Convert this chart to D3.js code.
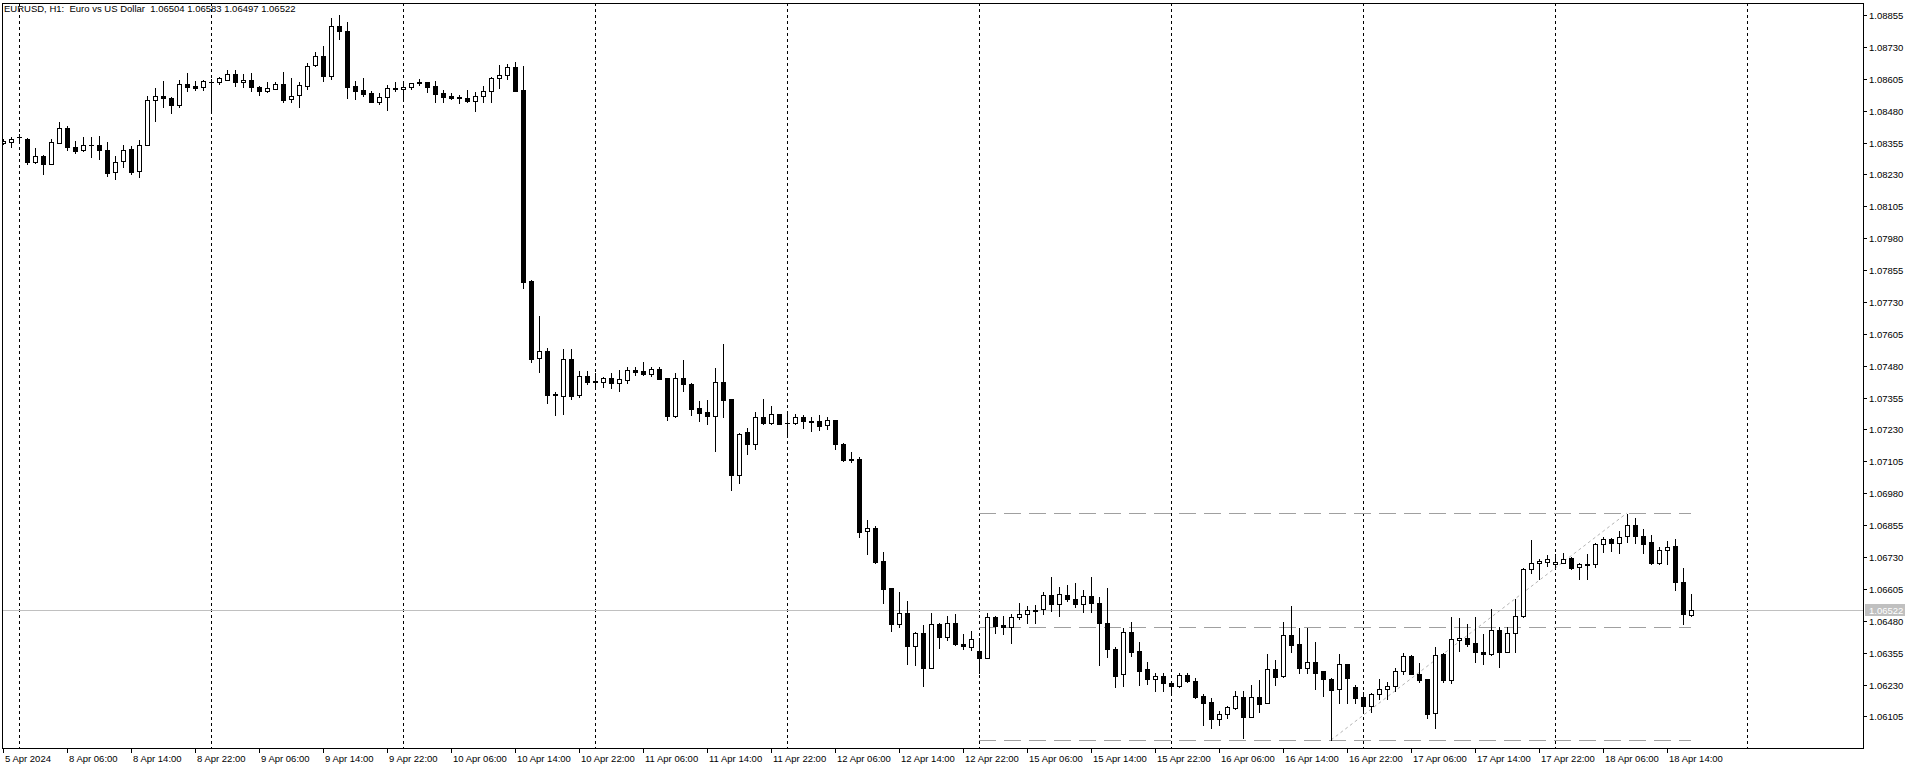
<!doctype html>
<html lang="en">
<head>
<meta charset="UTF-8">
<script src="https://cdn.jsdelivr.net/npm/d3@7/dist/d3.min.js"></script>
<style>
  body { margin: 0; background: #fff; }
  svg { display: block; }
  .axis text { font: 9.5px "Liberation Sans", Arial, sans-serif; fill: #000; }
  .title { font: 9.5px "Liberation Sans", Arial, sans-serif; fill: #000; white-space: pre; }
  .frame { fill: none; stroke: #000; shape-rendering: crispEdges; }
  .grid line { stroke: #000; stroke-dasharray: 3,3; shape-rendering: crispEdges; }
  .wick { stroke: #000; shape-rendering: crispEdges; }
  .bear { fill: #000; shape-rendering: crispEdges; }
  .bull { fill: #fff; stroke: #000; shape-rendering: crispEdges; }
  .fibo { stroke: #a0a0a0; stroke-dasharray: 17,8; shape-rendering: crispEdges; }
  .fiboTrend { stroke: #b4b4b4; stroke-dasharray: 3,3; }
  .priceLine { stroke: #c0c0c0; shape-rendering: crispEdges; }
</style>
</head>
<body>
<svg id="chart"></svg>
<script>
// ---- data (EURUSD H1) ----
const title = "EURUSD, H1:  Euro vs US Dollar  1.06504 1.06583 1.06497 1.06522";

const opens = [1.08355,1.08356,1.08377,1.08369,1.08277,1.08302,1.08272,1.08354,1.08411,1.08337,
 1.08326,1.08347,1.08345,1.08326,1.08238,1.08281,1.08330,1.08242,1.08346,1.08521,
 1.08536,1.08530,1.08501,1.08584,1.08575,1.08572,1.08594,1.08591,1.08601,1.08622,
 1.08591,1.08599,1.08573,1.08557,1.08566,1.08584,1.08527,1.08540,1.08578,1.08658,
 1.08694,1.08617,1.08812,1.08792,1.08577,1.08561,1.08548,1.08515,1.08532,1.08568,
 1.08564,1.08572,1.08592,1.08591,1.08577,1.08549,1.08537,1.08534,1.08530,1.08519,
 1.08536,1.08557,1.08607,1.08619,1.08650,1.08561,1.07812,1.07511,1.07538,1.07370,
 1.07362,1.07506,1.07366,1.07440,1.07419,1.07417,1.07431,1.07413,1.07425,1.07463,
 1.07458,1.07449,1.07466,1.07431,1.07284,1.07431,1.07407,1.07313,1.07298,1.07284,
 1.07415,1.07349,1.07053,1.07220,1.07174,1.07279,1.07256,1.07289,1.07255,1.07256,
 1.07278,1.07262,1.07262,1.07246,1.07266,1.07173,1.07112,1.07114,1.06833,1.06843,
 1.06713,1.06607,1.06468,1.06509,1.06382,1.06431,1.06293,1.06466,1.06417,1.06470,
 1.06388,1.06378,1.06361,1.06335,1.06493,1.06462,1.06454,1.06496,1.06505,1.06522,
 1.06525,1.06580,1.06544,1.06581,1.06564,1.06547,1.06576,1.06549,1.06470,1.06370,
 1.06270,1.06436,1.06361,1.06291,1.06250,1.06264,1.06236,1.06225,1.06266,1.06242,
 1.06185,1.06160,1.06096,1.06113,1.06139,1.06181,1.06101,1.06181,1.06159,1.06291,
 1.06263,1.06423,1.06389,1.06296,1.06317,1.06282,1.06253,1.06211,1.06309,1.06219,
 1.06180,1.06144,1.06191,1.06211,1.06223,1.06282,1.06342,1.06271,1.06250,1.06117,
 1.06348,1.06248,1.06403,1.06413,1.06391,1.06357,1.06348,1.06442,1.06356,1.06431,
 1.06497,1.06682,1.06705,1.06711,1.06701,1.06708,1.06725,1.06689,1.06700,1.06701,
 1.06780,1.06799,1.06783,1.06812,1.06854,1.06812,1.06787,1.06705,1.06758,1.06772,
 1.06631,1.06504];

const highs = [1.08367,1.08378,1.08388,1.08372,1.08335,1.08305,1.08368,1.08434,1.08419,1.08360,
 1.08375,1.08378,1.08381,1.08357,1.08302,1.08345,1.08341,1.08365,1.08536,1.08569,
 1.08597,1.08532,1.08600,1.08629,1.08595,1.08600,1.08603,1.08613,1.08639,1.08639,
 1.08622,1.08629,1.08577,1.08592,1.08593,1.08633,1.08607,1.08593,1.08666,1.08710,
 1.08733,1.08843,1.08855,1.08826,1.08596,1.08607,1.08557,1.08548,1.08582,1.08592,
 1.08595,1.08588,1.08603,1.08593,1.08596,1.08561,1.08548,1.08541,1.08561,1.08553,
 1.08575,1.08613,1.08659,1.08663,1.08670,1.08655,1.07816,1.07675,1.07548,1.07378,
 1.07545,1.07545,1.07459,1.07459,1.07450,1.07437,1.07451,1.07462,1.07474,1.07474,
 1.07494,1.07474,1.07475,1.07431,1.07452,1.07502,1.07413,1.07342,1.07345,1.07472,
 1.07565,1.07349,1.07217,1.07236,1.07298,1.07349,1.07321,1.07289,1.07291,1.07291,
 1.07287,1.07280,1.07287,1.07278,1.07267,1.07175,1.07142,1.07121,1.06875,1.06850,
 1.06749,1.06609,1.06593,1.06557,1.06436,1.06462,1.06509,1.06472,1.06498,1.06506,
 1.06428,1.06440,1.06411,1.06509,1.06498,1.06498,1.06506,1.06548,1.06538,1.06542,
 1.06591,1.06651,1.06613,1.06620,1.06627,1.06600,1.06653,1.06574,1.06607,1.06378,
 1.06453,1.06475,1.06397,1.06319,1.06274,1.06274,1.06241,1.06274,1.06274,1.06257,
 1.06191,1.06177,1.06126,1.06147,1.06204,1.06204,1.06228,1.06248,1.06350,1.06326,
 1.06476,1.06539,1.06451,1.06451,1.06398,1.06282,1.06257,1.06350,1.06309,1.06228,
 1.06202,1.06198,1.06251,1.06241,1.06293,1.06355,1.06346,1.06313,1.06250,1.06378,
 1.06352,1.06493,1.06490,1.06467,1.06495,1.06428,1.06526,1.06457,1.06457,1.06564,
 1.06688,1.06797,1.06722,1.06738,1.06742,1.06744,1.06729,1.06705,1.06742,1.06786,
 1.06809,1.06803,1.06832,1.06900,1.06882,1.06838,1.06816,1.06770,1.06791,1.06799,
 1.06685,1.06583];

const lows = [1.08351,1.08336,1.08365,1.08272,1.08276,1.08233,1.08271,1.08352,1.08326,1.08315,
 1.08323,1.08299,1.08289,1.08225,1.08211,1.08260,1.08233,1.08221,1.08345,1.08438,
 1.08495,1.08470,1.08495,1.08558,1.08561,1.08561,1.08476,1.08586,1.08600,1.08577,
 1.08572,1.08557,1.08543,1.08553,1.08564,1.08515,1.08515,1.08495,1.08566,1.08656,
 1.08597,1.08605,1.08762,1.08531,1.08524,1.08539,1.08515,1.08505,1.08481,1.08556,
 1.08519,1.08564,1.08581,1.08554,1.08515,1.08513,1.08524,1.08509,1.08515,1.08480,
 1.08514,1.08515,1.08570,1.08605,1.08556,1.07786,1.07496,1.07456,1.07335,1.07287,
 1.07291,1.07349,1.07358,1.07408,1.07391,1.07396,1.07392,1.07381,1.07413,1.07445,
 1.07443,1.07441,1.07427,1.07267,1.07280,1.07381,1.07287,1.07264,1.07251,1.07147,
 1.07279,1.06993,1.07021,1.07134,1.07152,1.07250,1.07253,1.07250,1.07204,1.07251,
 1.07237,1.07225,1.07228,1.07232,1.07153,1.07106,1.07104,1.06809,1.06742,1.06706,
 1.06551,1.06441,1.06457,1.06310,1.06306,1.06225,1.06293,1.06374,1.06404,1.06385,
 1.06371,1.06365,1.06274,1.06333,1.06433,1.06428,1.06391,1.06486,1.06470,1.06470,
 1.06505,1.06518,1.06500,1.06559,1.06533,1.06515,1.06515,1.06306,1.06339,1.06219,
 1.06224,1.06342,1.06229,1.06232,1.06203,1.06203,1.06189,1.06221,1.06241,1.06178,
 1.06072,1.06061,1.06071,1.06100,1.06135,1.06020,1.06101,1.06123,1.06159,1.06228,
 1.06258,1.06359,1.06276,1.06276,1.06213,1.06185,1.06012,1.06159,1.06159,1.06159,
 1.06117,1.06121,1.06172,1.06172,1.06206,1.06271,1.06270,1.06241,1.06097,1.06061,
 1.06241,1.06237,1.06361,1.06381,1.06319,1.06310,1.06344,1.06298,1.06356,1.06359,
 1.06493,1.06668,1.06644,1.06695,1.06692,1.06705,1.06682,1.06642,1.06644,1.06689,
 1.06751,1.06753,1.06747,1.06790,1.06783,1.06747,1.06701,1.06701,1.06701,1.06600,
 1.06466,1.06497];

const closes = [1.08361,1.08370,1.08375,1.08280,1.08302,1.08272,1.08356,1.08411,1.08336,1.08321,
 1.08347,1.08345,1.08325,1.08237,1.08280,1.08325,1.08239,1.08344,1.08521,1.08536,
 1.08531,1.08503,1.08583,1.08574,1.08570,1.08595,1.08591,1.08608,1.08622,1.08591,
 1.08599,1.08572,1.08557,1.08569,1.08584,1.08522,1.08536,1.08579,1.08654,1.08694,
 1.08617,1.08812,1.08791,1.08574,1.08558,1.08545,1.08515,1.08532,1.08568,1.08566,
 1.08572,1.08587,1.08587,1.08574,1.08546,1.08535,1.08530,1.08528,1.08519,1.08536,
 1.08557,1.08607,1.08619,1.08650,1.08558,1.07809,1.07506,1.07538,1.07366,1.07364,
 1.07506,1.07362,1.07438,1.07417,1.07418,1.07431,1.07413,1.07427,1.07462,1.07456,
 1.07449,1.07466,1.07429,1.07284,1.07431,1.07407,1.07310,1.07296,1.07284,1.07415,
 1.07347,1.07051,1.07212,1.07174,1.07279,1.07256,1.07289,1.07253,1.07254,1.07278,
 1.07262,1.07260,1.07245,1.07266,1.07172,1.07110,1.07113,1.06829,1.06842,1.06710,
 1.06606,1.06468,1.06509,1.06382,1.06431,1.06296,1.06466,1.06417,1.06470,1.06389,
 1.06381,1.06407,1.06335,1.06493,1.06460,1.06454,1.06496,1.06505,1.06521,1.06518,
 1.06580,1.06544,1.06585,1.06564,1.06547,1.06576,1.06548,1.06470,1.06370,1.06264,
 1.06436,1.06359,1.06284,1.06250,1.06262,1.06237,1.06225,1.06266,1.06245,1.06182,
 1.06159,1.06096,1.06113,1.06141,1.06184,1.06104,1.06181,1.06155,1.06290,1.06261,
 1.06423,1.06386,1.06296,1.06317,1.06276,1.06250,1.06210,1.06309,1.06257,1.06178,
 1.06147,1.06193,1.06211,1.06223,1.06282,1.06342,1.06270,1.06249,1.06115,1.06344,
 1.06248,1.06407,1.06411,1.06390,1.06356,1.06348,1.06442,1.06356,1.06431,1.06497,
 1.06682,1.06705,1.06714,1.06721,1.06710,1.06721,1.06688,1.06701,1.06701,1.06780,
 1.06799,1.06783,1.06809,1.06855,1.06811,1.06782,1.06705,1.06758,1.06770,1.06631,
 1.06505,1.06522];

// one label every 8 hourly bars, starting at bar 0
const timeLabels = ["5 Apr 2024","8 Apr 06:00","8 Apr 14:00","8 Apr 22:00","9 Apr 06:00","9 Apr 14:00",
 "9 Apr 22:00","10 Apr 06:00","10 Apr 14:00","10 Apr 22:00","11 Apr 06:00","11 Apr 14:00",
 "11 Apr 22:00","12 Apr 06:00","12 Apr 14:00","12 Apr 22:00","15 Apr 06:00","15 Apr 14:00",
 "15 Apr 22:00","16 Apr 06:00","16 Apr 14:00","16 Apr 22:00","17 Apr 06:00","17 Apr 14:00",
 "17 Apr 22:00","18 Apr 06:00","18 Apr 14:00"];
const labelStep = 8;
// bars that open a new day (00:00)
const dayStarts = [2, 26, 50, 74, 98, 122, 146, 170, 194, 218];

const priceTicks = [1.08855,1.08730,1.08605,1.08480,1.08355,1.08230,1.08105,1.07980,1.07855,
 1.07730,1.07605,1.07480,1.07355,1.07230,1.07105,1.06980,1.06855,1.06730,1.06605,1.06480,
 1.06355,1.06230,1.06105];
const lastPrice = 1.06522;

// fibonacci retracement drawn on the chart
const fiboFrom = { bar: 166, price: 1.06012 };
const fiboTo = { bar: 203, price: 1.06901 };
const fiboLevels = [0, 0.5, 1];
const fiboSpan = [122, 211];

// ---- layout ----
const W = 1916, H = 769;
const plot = { left: 2, top: 3, right: 1863, bottom: 748 };

const svg = d3.select("#chart").attr("width", W).attr("height", H);
svg.append("rect").attr("width", W).attr("height", H).attr("fill", "#fff");

// bar index -> centre pixel, 8 px per bar
const x = d3.scaleLinear().domain([0, 232]).range([3, 3 + 8 * 232]);
const y = d3.scaleLinear().domain([1.08855, 1.06105]).range([15, 716.4]);
const px = v => Math.round(x(v));
const py = v => Math.round(y(v));

svg.append("defs").append("clipPath").attr("id", "clip")
  .append("rect")
  .attr("x", plot.left + 1).attr("y", plot.top + 1)
  .attr("width", plot.right - plot.left - 1).attr("height", plot.bottom - plot.top - 1);

const area = svg.append("g").attr("clip-path", "url(#clip)");

// day separators
area.append("g").attr("class", "grid")
  .selectAll("line").data(dayStarts).enter().append("line")
  .attr("x1", d => px(d) + 0.5).attr("x2", d => px(d) + 0.5)
  .attr("y1", plot.top).attr("y2", plot.bottom);

// current price line
area.append("line").attr("class", "priceLine")
  .attr("x1", plot.left).attr("x2", plot.right)
  .attr("y1", py(lastPrice) + 0.5).attr("y2", py(lastPrice) + 0.5);

// fibonacci levels
const fiboPrice = l => fiboTo.price - (fiboTo.price - fiboFrom.price) * l;
area.append("g").selectAll("line").data(fiboLevels).enter().append("line")
  .attr("class", "fibo")
  .attr("x1", px(fiboSpan[0])).attr("x2", px(fiboSpan[1]))
  .attr("y1", d => py(fiboPrice(d)) + 0.5).attr("y2", d => py(fiboPrice(d)) + 0.5);
area.append("line").attr("class", "fiboTrend")
  .attr("x1", px(fiboFrom.bar)).attr("y1", py(fiboFrom.price))
  .attr("x2", px(fiboTo.bar)).attr("y2", py(fiboTo.price));

// candles
const bars = d3.range(opens.length).map(i => ({
  i: i, o: opens[i], h: highs[i], l: lows[i], c: closes[i]
}));
const candle = area.append("g").selectAll("g").data(bars).enter().append("g");

candle.append("line").attr("class", "wick")
  .attr("x1", d => px(d.i) + 0.5).attr("x2", d => px(d.i) + 0.5)
  .attr("y1", d => py(d.h)).attr("y2", d => py(d.l) + 1);

candle.filter(d => d.c < d.o).append("rect").attr("class", "bear")
  .attr("x", d => px(d.i) - 2).attr("width", 5)
  .attr("y", d => py(d.o))
  .attr("height", d => Math.max(1, py(d.c) - py(d.o) + 1));

candle.filter(d => d.c > d.o && py(d.o) - py(d.c) >= 2).append("rect").attr("class", "bull")
  .attr("x", d => px(d.i) - 1.5).attr("width", 4)
  .attr("y", d => py(d.c) + 0.5)
  .attr("height", d => py(d.o) - py(d.c));

candle.filter(d => d.c >= d.o && py(d.o) - py(d.c) < 2).append("rect").attr("class", "bear")
  .attr("x", d => px(d.i) - 2).attr("width", 5)
  .attr("y", d => py(d.c))
  .attr("height", d => py(d.o) - py(d.c) + 1);

// frame
svg.append("rect").attr("class", "frame")
  .attr("x", plot.left + 0.5).attr("y", plot.top + 0.5)
  .attr("width", plot.right - plot.left).attr("height", plot.bottom - plot.top);

// price axis
const pAxis = svg.append("g").attr("class", "axis");
pAxis.selectAll("line").data(priceTicks).enter().append("line")
  .attr("x1", plot.right).attr("x2", plot.right + 4)
  .attr("y1", d => py(d) + 0.5).attr("y2", d => py(d) + 0.5)
  .attr("stroke", "#000").attr("shape-rendering", "crispEdges");
pAxis.selectAll("text").data(priceTicks).enter().append("text")
  .attr("x", plot.right + 6).attr("y", d => py(d) + 4)
  .text(d => d.toFixed(5));

// last price tag
svg.append("rect").attr("x", plot.right + 2).attr("y", py(lastPrice) - 6)
  .attr("width", 40).attr("height", 12).attr("fill", "#c0c0c0");
svg.append("text").attr("class", "title")
  .attr("x", plot.right + 6).attr("y", py(lastPrice) + 4)
  .style("fill", "#fff").text(lastPrice.toFixed(5));

// time axis
const tAxis = svg.append("g").attr("class", "axis");
tAxis.selectAll("line").data(timeLabels).enter().append("line")
  .attr("x1", (d, i) => px(i * labelStep) + 0.5).attr("x2", (d, i) => px(i * labelStep) + 0.5)
  .attr("y1", plot.bottom).attr("y2", plot.bottom + 5)
  .attr("stroke", "#000").attr("shape-rendering", "crispEdges");
tAxis.selectAll("text").data(timeLabels).enter().append("text")
  .attr("x", (d, i) => px(i * labelStep) + 2).attr("y", plot.bottom + 14)
  .text(d => d);

// header
svg.append("text").attr("class", "title").attr("x", 4).attr("y", 12).text(title);
</script>
</body>
</html>
